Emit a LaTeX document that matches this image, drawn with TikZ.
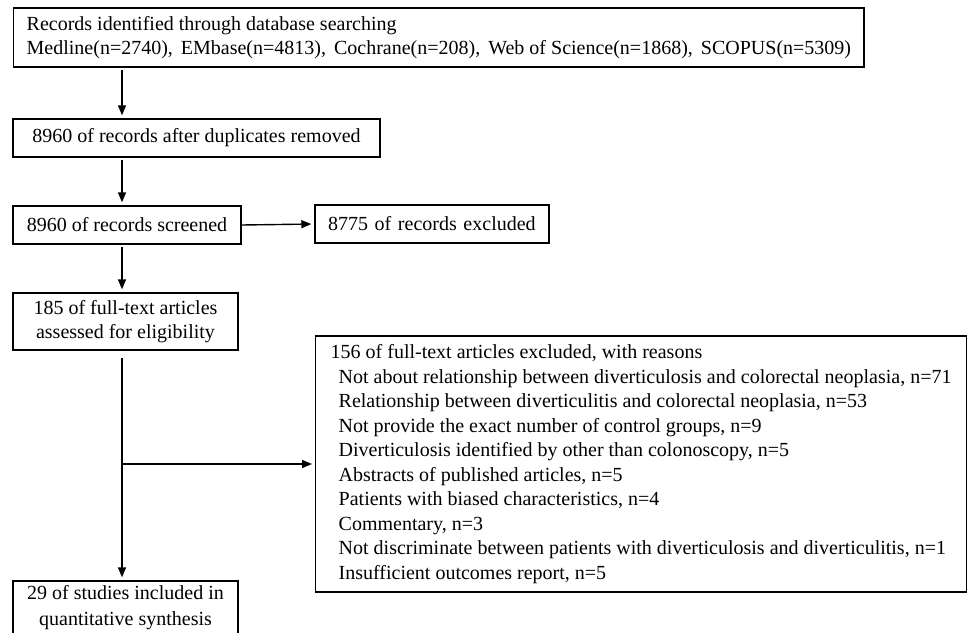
\documentclass[tikz,border=0pt]{standalone}
\usepackage{fontspec}
\setmainfont{Liberation Serif}
\usetikzlibrary{arrows.meta}

\begin{document}
\begin{tikzpicture}[x=0.5pt, y=-0.5pt,
        box/.style={draw, line width=0.7pt, inner sep=0pt, font=\fontsize{10}{12.25}\selectfont},
        flow/.style={-{Triangle[length=5pt,width=4pt]}, line width=0.7pt, shorten <=1pt, shorten >=1.5pt}]
        \useasboundingbox (0,0) rectangle (971,633);

        \node[box, anchor=west, minimum height=29.5pt, inner xsep=6.5pt, align=left] (search) at (13, 37.5)
            {Records identified through database searching\\
             Medline(n=2740),\hspace{1.5pt} EMbase(n=4813),\hspace{1.5pt} Cochrane(n=208),\hspace{1.5pt} Web of Science(n=1868),\hspace{1.5pt} SCOPUS(n=5309)};

        \node[box, minimum width=183.5pt, minimum height=19pt] (dedup) at (196.5, 138) {8960 of records after duplicates removed};

        \node[box, minimum width=114pt, minimum height=19pt] (screen) at (127, 225) {8960 of records screened};
        \node[box, minimum width=117pt, minimum height=19pt, text width=104pt, align=left] (drop) at (432, 224) {8775 of records excluded};

        \node[box, minimum width=112.5pt, minimum height=28.5pt, align=center] (full) at (125.5, 321.5)
            {185 of full-text articles\\assessed for eligibility};

        \node[box, anchor=west, minimum height=128pt, inner xsep=7.5pt, align=left] (reasons) at (315, 464)
            {156 of full-text articles excluded, with reasons\\
             \hspace*{4pt}Not about relationship between diverticulosis and colorectal neoplasia, n=71\\
             \hspace*{4pt}Relationship between diverticulitis and colorectal neoplasia, n=53\\
             \hspace*{4pt}Not provide the exact number of control groups, n=9\\
             \hspace*{4pt}Diverticulosis identified by other than colonoscopy, n=5\\
             \hspace*{4pt}Abstracts of published articles, n=5\\
             \hspace*{4pt}Patients with biased characteristics, n=4\\
             \hspace*{4pt}Commentary, n=3\\
             \hspace*{4pt}Not discriminate between patients with diverticulosis and diverticulitis, n=1\\
             \hspace*{4pt}Insufficient outcomes report, n=5};

        \node[box, minimum width=112.5pt, minimum height=27pt, align=center, font=\fontsize{10}{13}\selectfont] (incl) at (125.5, 608)
            {29 of studies included in\\quantitative synthesis};

        \coordinate (spine) at (122, 0);
        \coordinate (fork) at (122, 464);

        \draw[flow] (search.south -| spine) -- (dedup.north -| spine);
        \draw[flow] (dedup.south -| spine) -- (screen.north -| spine);
        \draw[flow, shorten <=0pt] (screen.east) -- (drop.west);
        \draw[flow] (screen.south -| spine) -- (full.north -| spine);
        \draw[flow, shorten <=3.5pt] (full.south -| spine) -- (incl.north -| spine);
        \draw[flow, shorten <=0pt] (fork) -- (reasons.west);

    \end{tikzpicture}
\end{document}
